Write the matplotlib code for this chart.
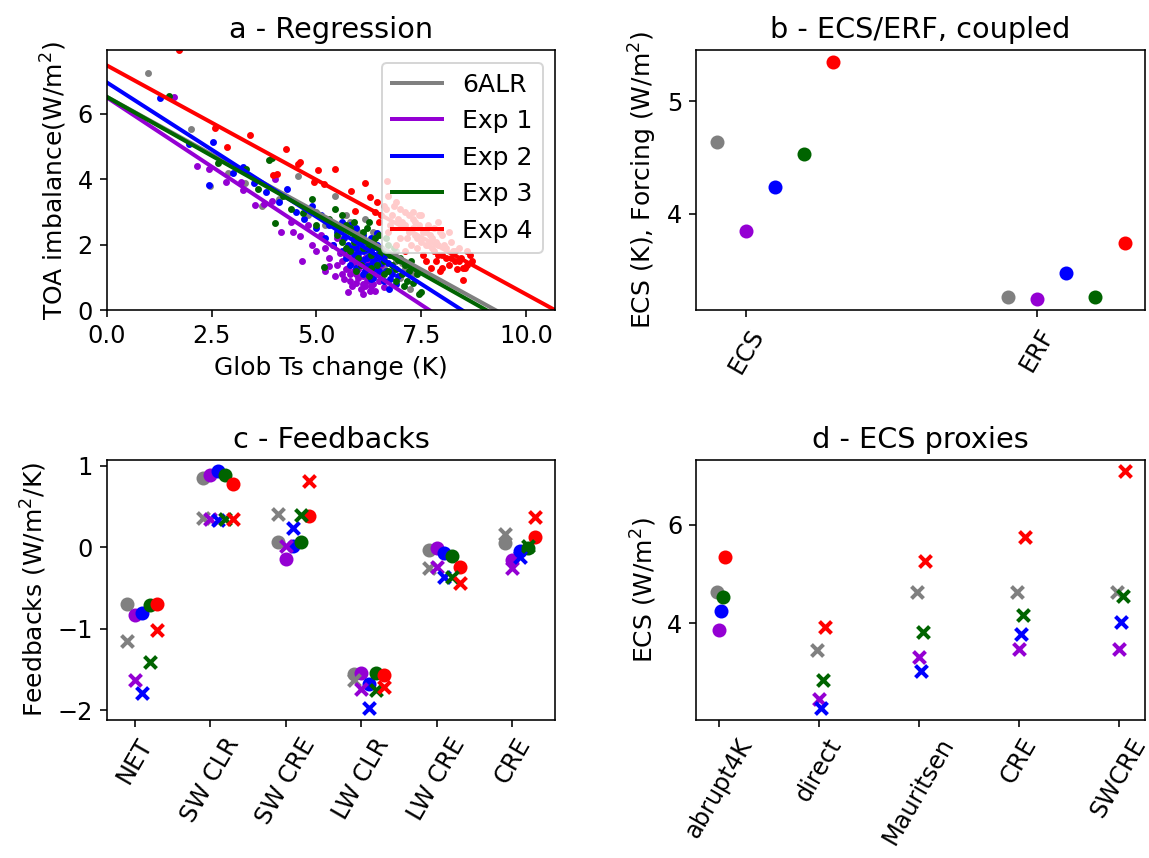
import numpy as np
import matplotlib
matplotlib.use('Agg')
import matplotlib.pyplot as plt

plt.rcParams['font.size'] = 12
plt.rcParams['axes.titlesize'] = 14.4
plt.rcParams['axes.labelsize'] = 12.5
plt.rcParams['legend.fontsize'] = 12.5

names = ['6ALR', 'Exp 1', 'Exp 2', 'Exp 3', 'Exp 4']
colors = ['grey', 'darkviolet', 'blue', 'darkgreen', 'red']

# ECS (K) and ERF (W/m2) per experiment (panel b, also used for panel a lines)
ecs = [4.64, 3.85, 4.24, 4.53, 5.35]
erf = [3.26, 3.25, 3.48, 3.26, 3.74]

# panel a - yearly global means as (Ts change, TOA imbalance)
pts_6alr = [(0.98, 7.26), (2.00, 5.54), (2.45, 3.80), (2.9, 4.2), (3.3, 3.9), (3.7, 3.2),
            (4.1, 3.4), (4.57, 4.11), (4.8, 2.9), (5.0, 3.0), (5.2, 2.6), (5.45, 3.5),
            (5.6, 2.2), (5.7, 2.9), (5.8, 2.7), (5.9, 1.9), (5.95, 2.2), (6.0, 2.4),
            (6.15, 2.79), (6.2, 1.7), (6.2, 2.0), (6.3, 2.1), (6.35, 2.4), (6.4, 1.5),
            (6.45, 2.3), (6.5, 1.9), (6.55, 1.1), (6.6, 1.3), (6.6, 1.6), (6.7, 1.7),
            (6.8, 1.2), (6.9, 1.5), (6.9, 1.8), (7.0, 1.0), (7.05, 1.45), (7.1, 1.3),
            (7.24, 0.64), (7.3, 1.1)]

pts_exp1 = [(1.60, 6.52), (2.16, 4.40), (2.43, 4.33), (2.85, 3.92), (3.20, 3.92),
            (3.25, 3.68), (3.54, 3.22), (3.74, 3.25), (3.94, 3.35), (4.02, 4.02),
            (4.16, 2.39), (4.4, 2.7), (4.45, 2.39), (4.61, 2.28), (4.65, 1.51),
            (4.8, 2.6), (4.9, 2.0), (5.0, 1.8), (5.1, 2.3), (5.2, 1.2), (5.2, 1.9),
            (5.3, 1.6), (5.3, 1.35), (5.4, 2.0), (5.45, 1.05), (5.5, 1.4), (5.5, 2.2),
            (5.55, 1.75), (5.6, 1.1), (5.6, 1.5), (5.65, 0.95), (5.7, 1.7), (5.7, 1.25),
            (5.75, 1.3), (5.75, 1.75), (5.75, 0.55), (5.8, 0.9), (5.8, 1.1), (5.85, 1.5),
            (5.85, 0.75), (5.9, 1.2), (5.9, 1.45), (5.95, 1.8), (5.95, 0.85), (5.95, 1.1),
            (6.0, 1.0), (6.0, 1.25), (6.0, 1.65), (6.05, 1.4), (6.05, 0.65), (6.05, 1.9),
            (6.1, 0.8), (6.1, 1.05), (6.1, 1.45), (6.11, 0.50), (6.15, 1.2), (6.15, 0.75),
            (6.15, 1.6), (6.2, 1.6), (6.2, 1.3), (6.2, 0.9), (6.25, 1.0), (6.25, 1.45),
            (6.27, 0.60), (6.3, 1.3), (6.3, 1.05), (6.3, 0.75), (6.35, 0.8), (6.35, 1.25),
            (6.4, 1.1), (6.4, 0.6), (6.45, 1.3), (6.5, 0.9), (6.5, 1.15), (6.55, 1.4),
            (6.6, 0.7)]

pts_exp2 = [(1.26, 6.49), (1.97, 5.08), (2.54, 5.15), (2.44, 3.82), (3.02, 4.20),
            (3.25, 4.39), (3.5, 3.9), (3.8, 3.6), (4.1, 3.3), (4.3, 3.7), (4.5, 3.0),
            (4.7, 2.8), (4.9, 3.2), (5.0, 2.5), (5.1, 2.9), (5.2, 2.2), (5.3, 2.6),
            (5.4, 2.0), (5.5, 2.4), (5.6, 1.8), (5.6, 2.7), (5.65, 2.2), (5.7, 1.6),
            (5.75, 2.0), (5.8, 1.4), (5.8, 2.6), (5.85, 1.9), (5.9, 1.7), (5.9, 2.2),
            (5.95, 1.3), (5.95, 2.5), (5.95, 1.9), (6.0, 2.1), (6.0, 1.75), (6.05, 1.5),
            (6.05, 2.05), (6.1, 1.8), (6.1, 1.55), (6.1, 2.3), (6.1, 1.1), (6.15, 1.2),
            (6.15, 1.85), (6.2, 1.6), (6.2, 2.1), (6.2, 1.35), (6.25, 1.9), (6.25, 1.65),
            (6.3, 1.4), (6.3, 2.2), (6.3, 1.8), (6.3, 0.95), (6.35, 1.0), (6.35, 1.5),
            (6.4, 1.7), (6.4, 1.95), (6.4, 1.3), (6.45, 2.0), (6.45, 1.6), (6.45, 2.35),
            (6.5, 1.2), (6.5, 1.85), (6.55, 1.45), (6.6, 0.9), (6.6, 1.65), (6.65, 1.2),
            (6.7, 1.45), (6.72, 0.64), (6.75, 0.95), (6.8, 1.1), (6.85, 1.3), (6.9, 0.8),
            (6.95, 1.05)]

pts_exp3 = [(1.49, 6.56), (2.66, 4.49), (3.32, 4.31), (3.6, 3.7), (3.87, 4.58),
            (3.94, 4.64), (4.00, 2.66), (4.2, 3.5), (4.4, 3.1), (4.69, 2.96), (4.9, 3.4),
            (5.0, 2.6), (5.17, 1.32), (5.3, 2.8), (5.45, 3.1), (5.5, 2.3), (5.5, 2.5),
            (5.6, 2.9), (5.6, 2.1), (5.7, 1.9), (5.7, 2.6), (5.8, 2.5), (5.8, 1.8),
            (5.9, 2.1), (5.9, 2.7), (5.95, 1.2), (6.0, 1.6), (6.0, 2.2), (6.05, 1.4),
            (6.1, 2.4), (6.1, 1.9), (6.2, 1.9), (6.2, 2.5), (6.25, 2.7), (6.25, 1.05),
            (6.3, 1.3), (6.3, 1.7), (6.35, 2.1), (6.4, 2.2), (6.45, 1.4), (6.5, 1.7),
            (6.5, 2.3), (6.55, 1.9), (6.6, 1.1), (6.6, 1.5), (6.65, 2.2), (6.7, 2.0),
            (6.7, 1.2), (6.75, 1.7), (6.8, 1.4), (6.85, 1.9), (6.9, 0.9), (6.9, 1.25),
            (6.95, 1.55), (7.0, 1.6), (7.05, 1.1), (7.08, 0.74), (7.1, 1.4), (7.15, 0.9),
            (7.2, 1.2), (7.25, 1.5), (7.3, 0.85), (7.4, 1.1), (7.44, 0.50), (7.5, 0.55)]

pts_exp4 = [(1.73, 7.95), (2.58, 5.56), (2.87, 5.00), (3.42, 5.34), (3.96, 4.12),
            (4.06, 4.15), (4.28, 4.94), (4.55, 4.48), (4.61, 4.53), (4.95, 3.92),
            (5.04, 4.30), (5.17, 3.85), (5.45, 4.33), (5.82, 3.65), (5.93, 3.04),
            (6.15, 3.90), (6.28, 3.46), (6.4, 3.0), (6.45, 3.3), (6.5, 2.7), (6.55, 2.9),
            (6.6, 3.2), (6.65, 3.1), (6.68, 3.94), (6.7, 2.4), (6.7, 3.5), (6.75, 2.6),
            (6.8, 2.9), (6.85, 3.2), (6.9, 3.3), (6.9, 2.0), (6.95, 2.8), (7.0, 2.2),
            (7.0, 3.1), (7.05, 2.7), (7.1, 3.0), (7.1, 2.6), (7.1, 1.8), (7.15, 2.2),
            (7.2, 2.4), (7.2, 2.9), (7.25, 2.0), (7.3, 2.8), (7.3, 2.5), (7.3, 3.0),
            (7.35, 2.3), (7.35, 2.7), (7.4, 1.9), (7.4, 2.2), (7.45, 2.6), (7.45, 2.9),
            (7.5, 2.1), (7.5, 2.9), (7.55, 1.7), (7.55, 2.4), (7.6, 2.4), (7.6, 2.0),
            (7.6, 1.5), (7.65, 2.0), (7.65, 2.6), (7.7, 2.3), (7.72, 1.30), (7.75, 2.2),
            (7.75, 1.9), (7.8, 1.8), (7.8, 2.5), (7.85, 1.5), (7.85, 2.1), (7.9, 2.0),
            (7.9, 1.7), (7.9, 2.7), (7.95, 1.20), (7.95, 2.4), (8.0, 1.7), (8.0, 2.3),
            (8.0, 1.3), (8.05, 2.0), (8.1, 1.9), (8.1, 1.6), (8.15, 1.4), (8.15, 2.4),
            (8.2, 1.6), (8.2, 2.1), (8.25, 1.8), (8.3, 1.8), (8.3, 1.5), (8.35, 1.25),
            (8.4, 1.5), (8.4, 1.9), (8.45, 1.6), (8.5, 0.94), (8.5, 1.3), (8.55, 1.30),
            (8.59, 1.40), (8.6, 1.8), (8.65, 1.7), (8.7, 1.5)]

pts_all = [pts_6alr, pts_exp1, pts_exp2, pts_exp3, pts_exp4]

# panel c - feedbacks (W/m2/K)
fb_names = ['NET', 'SW CLR', 'SW CRE', 'LW CLR', 'LW CRE', 'CRE']
fb_dot = [[-0.69, 0.85, 0.07, -1.55, -0.03, 0.05],
          [-0.83, 0.89, -0.14, -1.54, -0.01, -0.16],
          [-0.81, 0.93, 0.02, -1.67, -0.07, -0.05],
          [-0.71, 0.89, 0.07, -1.54, -0.11, -0.01],
          [-0.69, 0.77, 0.38, -1.56, -0.24, 0.12]]
fb_x = [[-1.15, 0.36, 0.41, -1.63, -0.26, 0.16],
        [-1.63, 0.35, 0.01, -1.74, -0.24, -0.25],
        [-1.78, 0.34, 0.23, -1.97, -0.36, -0.12],
        [-1.40, 0.35, 0.40, -1.75, -0.37, 0.01],
        [-1.01, 0.35, 0.81, -1.71, -0.44, 0.37]]

# panel d - ECS proxies (direct, Mauritsen, CRE, SWCRE)
px_names = ['abrupt4K', 'direct', 'Mauritsen', 'CRE', 'SWCRE']
proxy = [[3.46, 4.64, 4.64, 4.64],
         [2.45, 3.30, 3.47, 3.47],
         [2.27, 3.03, 3.78, 4.02],
         [2.85, 3.82, 4.16, 4.55],
         [3.93, 5.27, 5.76, 7.09]]

fig, axs = plt.subplots(2, 2, figsize=(1149 / 144, 858 / 144), dpi=144)
fig.subplots_adjust(left=0.093, right=0.9965, bottom=0.161, top=0.9417,
                    wspace=0.314, hspace=0.573)

# a - Regression
ax = axs[0, 0]
for i in range(5):
    xs, ys = np.array(pts_all[i]).T
    ax.scatter(xs, ys, s=6, color=colors[i])
    xx = np.array([0, 2 * ecs[i]])
    ax.plot(xx, 2 * erf[i] * (1 - xx / (2 * ecs[i])), color=colors[i], lw=2,
            label=names[i])
ax.set_xlim(0, 2 * max(ecs))
ax.set_ylim(0, 7.95)
ax.set_xticks([0, 2.5, 5, 7.5, 10])
ax.set_yticks([0, 2, 4, 6])
ax.set_xlabel('Glob Ts change (K)')
ax.set_ylabel('TOA imbalance(W/m$^2$)')
ax.set_title('a - Regression')
ax.legend(loc='upper right')

# b - ECS/ERF
ax = axs[0, 1]
for i in range(5):
    ax.scatter([0 + 0.1 * (i - 1), 1 + 0.1 * (i - 1)], [ecs[i], erf[i]], color=colors[i])
ax.set_xticks([0, 1])
ax.set_xticklabels(['ECS', 'ERF'], rotation=60)
ax.set_yticks([4, 5])
ax.set_ylabel('ECS (K), Forcing (W/m$^2$)')
ax.set_title('b - ECS/ERF, coupled')

# c - Feedbacks
ax = axs[1, 0]
pos = np.arange(len(fb_names))
for i in range(5):
    ax.scatter(pos + 0.1 * (i - 1), fb_dot[i], color=colors[i])
for i in range(5):
    ax.scatter(pos + 0.1 * (i - 1), fb_x[i], color=colors[i], marker='x', linewidths=2)
ax.set_xticks(pos)
ax.set_xticklabels(fb_names, rotation=60)
ax.set_ylabel('Feedbacks (W/m$^2$/K)')
ax.set_title('c - Feedbacks')

# d - ECS proxies
ax = axs[1, 1]
pos = np.arange(len(px_names))
for i in range(5):
    ax.scatter(0.02 * (i - 1), ecs[i], color=colors[i])
    ax.scatter(pos[1:] + 0.02 * (i - 1), proxy[i], color=colors[i], marker='x',
               linewidths=2)
ax.set_xticks(pos)
ax.set_xticklabels(px_names, rotation=60)
ax.set_ylabel('ECS (W/m$^2$)')
ax.set_title('d - ECS proxies')

fig.savefig('out.png', dpi=144)
